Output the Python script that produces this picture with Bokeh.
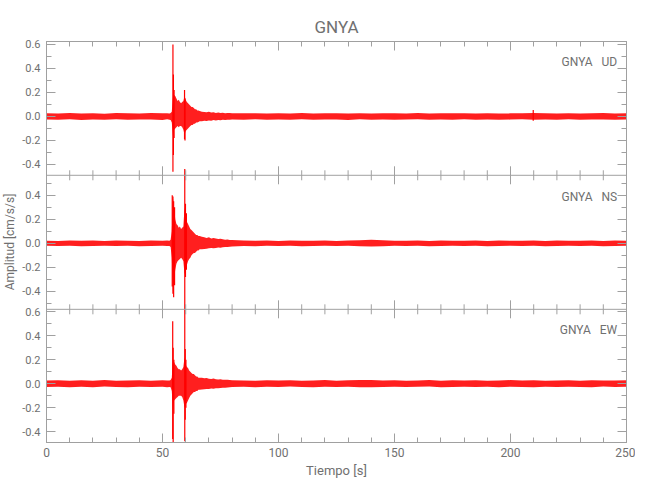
from bokeh.plotting import figure
from bokeh.models import (ColumnDataSource, Range1d, LinearAxis, SingleIntervalTicker,
                          FixedTicker, Label, Span, CustomJSTickFormatter)
from bokeh.transform import dodge
from bokeh.embed import file_html
from bokeh.resources import INLINE

# ---------------- data ----------------
TITLE = "GNYA"
STATION = "GNYA"
COMPONENTS = ["UD", "NS", "EW"]

# time samples of the envelope [s]
T = [0, 5, 10, 15, 20, 25, 30, 35, 40, 45, 50, 52, 53,
     53.5, 54, 54.5, 55, 55.5, 56, 56.5, 57, 57.5, 58, 58.5, 59, 59.5, 60, 60.5, 61,
     61.5, 62, 62.5, 63, 63.5, 64, 64.5, 65, 65.5, 66,
     67, 68, 69, 70, 71, 72, 73, 74, 75, 76, 77, 78, 79, 80,
     85, 90, 95, 100, 105, 110, 115, 120, 125, 130, 135, 140, 145, 150, 155, 160, 165,
     170, 175, 180, 185, 190, 195, 200, 205, 210, 215, 220, 225, 230, 235, 240, 245, 250]

# UD envelope [cm/s/s]
UD_hi = [0.027, 0.024, 0.030, 0.025, 0.028, 0.023, 0.029, 0.026, 0.024, 0.030, 0.026, 0.028, 0.025,
         0.03, 0.04, 0.16, 0.18, 0.17, 0.15, 0.13, 0.14, 0.12, 0.11, 0.12, 0.13, 0.17, 0.14, 0.12, 0.11,
         0.10, 0.09, 0.08, 0.08, 0.07, 0.06, 0.06, 0.05, 0.05, 0.045,
         0.040, 0.038, 0.035, 0.040, 0.033, 0.035, 0.030, 0.034, 0.030, 0.032, 0.028, 0.030, 0.029, 0.027,
         0.026, 0.028, 0.024, 0.027, 0.025, 0.029, 0.024, 0.026, 0.028, 0.025, 0.027, 0.024, 0.028, 0.026,
         0.025, 0.029, 0.024, 0.027, 0.026, 0.028, 0.025, 0.027, 0.024, 0.026, 0.028, 0.029, 0.027, 0.025,
         0.028, 0.024, 0.026, 0.029, 0.025, 0.027]
UD_lo = [-0.026, -0.028, -0.024, -0.029, -0.025, -0.027, -0.024, -0.028, -0.026, -0.025, -0.029, -0.024, -0.027,
         -0.03, -0.05, -0.16, -0.11, -0.10, -0.09, -0.08, -0.09, -0.08, -0.08, -0.09, -0.11, -0.15, -0.12, -0.11, -0.10,
         -0.09, -0.08, -0.07, -0.07, -0.06, -0.06, -0.05, -0.05, -0.045, -0.04,
         -0.040, -0.035, -0.037, -0.033, -0.035, -0.030, -0.033, -0.030, -0.031, -0.028, -0.030, -0.027, -0.028, -0.026,
         -0.027, -0.024, -0.028, -0.025, -0.027, -0.024, -0.028, -0.026, -0.025, -0.029, -0.024, -0.027, -0.025, -0.028,
         -0.026, -0.024, -0.027, -0.025, -0.028, -0.024, -0.027, -0.025, -0.028, -0.026, -0.024, -0.028, -0.026, -0.028,
         -0.024, -0.027, -0.025, -0.026, -0.028, -0.025]

# NS envelope
NS_hi = [0.022, 0.020, 0.024, 0.021, 0.023, 0.019, 0.024, 0.022, 0.020, 0.023, 0.021, 0.024, 0.022,
         0.03, 0.10, 0.38, 0.30, 0.20, 0.16, 0.15, 0.13, 0.14, 0.12, 0.13, 0.14, 0.30, 0.22, 0.18, 0.16,
         0.14, 0.12, 0.11, 0.10, 0.09, 0.08, 0.07, 0.07, 0.06, 0.06,
         0.055, 0.050, 0.045, 0.050, 0.040, 0.045, 0.040, 0.035, 0.038, 0.034, 0.030, 0.032, 0.028, 0.027,
         0.024, 0.021, 0.023, 0.020, 0.024, 0.022, 0.021, 0.023, 0.020, 0.024, 0.026, 0.030, 0.025, 0.022,
         0.021, 0.024, 0.020, 0.023, 0.022, 0.021, 0.024, 0.020, 0.023, 0.022, 0.021, 0.024, 0.020, 0.023,
         0.022, 0.021, 0.024, 0.020, 0.023, 0.022]
NS_lo = [-0.021, -0.023, -0.020, -0.024, -0.022, -0.021, -0.023, -0.020, -0.024, -0.022, -0.021, -0.023, -0.022,
         -0.03, -0.12, -0.40, -0.30, -0.22, -0.17, -0.15, -0.14, -0.13, -0.12, -0.13, -0.15, -0.26, -0.22, -0.18, -0.15,
         -0.13, -0.12, -0.10, -0.09, -0.08, -0.08, -0.07, -0.06, -0.06, -0.05,
         -0.050, -0.048, -0.045, -0.042, -0.040, -0.042, -0.038, -0.035, -0.036, -0.032, -0.030, -0.031, -0.028, -0.026,
         -0.022, -0.024, -0.020, -0.023, -0.021, -0.024, -0.022, -0.020, -0.023, -0.021, -0.024, -0.027, -0.024, -0.021,
         -0.023, -0.020, -0.024, -0.022, -0.021, -0.023, -0.020, -0.024, -0.022, -0.021, -0.023, -0.020, -0.024, -0.022,
         -0.021, -0.023, -0.020, -0.024, -0.022, -0.021]

# EW envelope
EW_hi = [0.026, 0.029, 0.024, 0.028, 0.025, 0.030, 0.024, 0.027, 0.029, 0.025, 0.028, 0.026, 0.027,
         0.03, 0.05, 0.20, 0.18, 0.16, 0.15, 0.13, 0.12, 0.12, 0.11, 0.12, 0.14, 0.22, 0.16, 0.14, 0.13,
         0.11, 0.10, 0.09, 0.08, 0.08, 0.07, 0.06, 0.06, 0.05, 0.05,
         0.050, 0.045, 0.048, 0.042, 0.040, 0.043, 0.038, 0.036, 0.038, 0.034, 0.032, 0.033, 0.030, 0.029,
         0.027, 0.025, 0.029, 0.026, 0.028, 0.024, 0.027, 0.030, 0.025, 0.028, 0.031, 0.030, 0.026, 0.029,
         0.025, 0.027, 0.030, 0.024, 0.028, 0.026, 0.029, 0.025, 0.027, 0.030, 0.026, 0.028, 0.024, 0.027,
         0.029, 0.025, 0.028, 0.026, 0.027, 0.029]
EW_lo = [-0.028, -0.025, -0.029, -0.026, -0.030, -0.024, -0.027, -0.029, -0.025, -0.028, -0.026, -0.029, -0.027,
         -0.03, -0.06, -0.22, -0.14, -0.13, -0.12, -0.11, -0.10, -0.10, -0.10, -0.11, -0.14, -0.20, -0.17, -0.16, -0.14,
         -0.12, -0.10, -0.09, -0.08, -0.07, -0.07, -0.06, -0.06, -0.05, -0.05,
         -0.048, -0.046, -0.044, -0.045, -0.040, -0.041, -0.037, -0.038, -0.035, -0.033, -0.034, -0.031, -0.030, -0.028,
         -0.026, -0.029, -0.025, -0.028, -0.024, -0.027, -0.030, -0.025, -0.028, -0.026, -0.029, -0.029, -0.027, -0.025,
         -0.028, -0.026, -0.024, -0.029, -0.027, -0.025, -0.028, -0.026, -0.030, -0.025, -0.027, -0.029, -0.026, -0.028,
         -0.025, -0.027, -0.029, -0.024, -0.028, -0.026]

# individual peaks (time, max, min)
UD_spk_t = [54.5, 54.7, 55.0, 59.5, 59.7, 209.8]
UD_spk_hi = [0.60, 0.35, 0.22, 0.22, 0.15, 0.055]
UD_spk_lo = [-0.46, -0.32, -0.18, -0.19, -0.20, -0.035]

NS_spk_t = [54.2, 54.5, 54.8, 55.2, 59.6, 59.9, 60.3]
NS_spk_hi = [0.40, 0.39, 0.35, 0.30, 0.62, 0.33, 0.25]
NS_spk_lo = [-0.36, -0.42, -0.45, -0.35, -0.53, -0.28, -0.22]

EW_spk_t = [54.4, 54.6, 54.9, 59.6, 59.8, 60.1]
EW_spk_hi = [0.52, 0.30, 0.20, 0.64, 0.29, 0.20]
EW_spk_lo = [-0.46, -0.50, -0.25, -0.48, -0.30, -0.20]

# y-axis extents of each panel (top to bottom)
Y_RANGES = [(-0.49, 0.625), (-0.55, 0.567), (-0.49, 0.62)]
LABEL_Y = [0.456, 0.386, 0.444]

# tick values
X_MAJOR = [0, 50, 100, 150, 200, 250]
X_MINOR = [10, 20, 30, 40, 60, 70, 80, 90, 110, 120, 130, 140, 160, 170, 180, 190,
           210, 220, 230, 240]
Y_MAJOR = [-0.4, -0.2, 0.0, 0.2, 0.4, 0.6]
Y_MINOR = [-0.5, -0.4, -0.3, -0.2, -0.1, 0.0, 0.1, 0.2, 0.3, 0.4, 0.5, 0.6]

# ---------------- styling ----------------
FONT = "Roboto"
AX = "#a0a0a0"
TXT = "#707070"
TRACE = "#ff0000"
FRAME_W, FRAME_H = 580, 401

# stacking of the three panels inside one frame (bottom panel first)
offsets = [0.0, 0.0, 0.0]
bounds = []
base = 0.0
for k in (2, 1, 0):
    lo_, hi_ = Y_RANGES[k]
    offsets[k] = base - lo_
    base = offsets[k] + hi_
    bounds.append(base)
TOP = base
inner_bounds = bounds[:-1]
px = FRAME_H / TOP  # pixels per unit

p = figure(frame_width=FRAME_W, frame_height=FRAME_H,
           x_range=Range1d(0, 250), y_range=Range1d(0, TOP),
           output_backend="svg", toolbar_location=None,
           min_border_left=42, min_border_right=9,
           min_border_top=41, min_border_bottom=40,
           background_fill_color="white", border_fill_color="white")
p.outline_line_color = AX
p.xgrid.visible = False
p.ygrid.visible = False

traces = [(UD_hi, UD_lo, UD_spk_t, UD_spk_hi, UD_spk_lo),
          (NS_hi, NS_lo, NS_spk_t, NS_spk_hi, NS_spk_lo),
          (EW_hi, EW_lo, EW_spk_t, EW_spk_hi, EW_spk_lo)]

SEP = "\u00a0\u00a0\u00a0"
for k, (hi, lo, st, sh, sl) in enumerate(traces):
    off = offsets[k]
    src = ColumnDataSource(dict(t=T, hi=hi, lo=lo))
    p.varea(x="t", y1=dodge("lo", off), y2=dodge("hi", off), source=src,
            fill_color=TRACE, fill_alpha=0.88)
    ssrc = ColumnDataSource(dict(t=st, hi=sh, lo=sl))
    p.segment(x0="t", y0=dodge("lo", off), x1="t", y1=dodge("hi", off), source=ssrc,
              line_color=TRACE, line_width=1.2)
    p.add_layout(Label(x=246, y=LABEL_Y[k] + off, text=STATION + SEP + COMPONENTS[k],
                       text_align="right", text_baseline="middle",
                       text_font=FONT, text_font_size="12px", text_color=TXT))

# panel boundaries with inward ticks on both sides
for b in inner_bounds:
    p.add_layout(Span(location=b, dimension="width", line_color=AX, line_width=1))
    p.segment(x0=X_MAJOR, y0=[b - 9 / px] * len(X_MAJOR), x1=X_MAJOR,
              y1=[b + 9 / px] * len(X_MAJOR), line_color=AX, line_width=1)
    p.segment(x0=X_MINOR, y0=[b - 5 / px] * len(X_MINOR), x1=X_MINOR,
              y1=[b + 5 / px] * len(X_MINOR), line_color=AX, line_width=1)

# y ticks for all panels
ymaj, yminr, overrides = [], [], {}
for k in range(3):
    lo_, hi_ = Y_RANGES[k]
    for v in Y_MAJOR:
        if lo_ <= v <= hi_:
            g = round(offsets[k] + v, 6)
            ymaj.append(g)
            overrides[g] = f"{v:.1f}"
    for v in Y_MINOR:
        if lo_ <= v <= hi_:
            yminr.append(round(offsets[k] + v, 6))


def style_axis(ax):
    ax.axis_line_color = AX
    ax.major_tick_line_color = AX
    ax.minor_tick_line_color = AX
    ax.major_tick_in = 9
    ax.major_tick_out = 0
    ax.minor_tick_in = 5
    ax.minor_tick_out = 0
    ax.major_label_text_font = FONT
    ax.major_label_text_color = TXT
    ax.major_label_text_font_size = "12px"
    ax.axis_label_text_font = FONT
    ax.axis_label_text_color = TXT
    ax.axis_label_text_font_style = "normal"
    ax.axis_label_text_font_size = "13px"


blank = CustomJSTickFormatter(code="return ''")

xb = p.xaxis[0]
xb.ticker = SingleIntervalTicker(interval=50, num_minor_ticks=5)
style_axis(xb)
xb.major_label_standoff = 5
xb.axis_label = "Tiempo [s]"
xb.axis_label_standoff = 3

xa = LinearAxis(ticker=SingleIntervalTicker(interval=50, num_minor_ticks=5), formatter=blank)
style_axis(xa)
xa.major_label_standoff = 6
p.add_layout(xa, "above")

yl = p.yaxis[0]
yl.ticker = FixedTicker(ticks=ymaj, minor_ticks=yminr)
yl.major_label_overrides = overrides
style_axis(yl)
yl.major_label_text_font_size = "11px"
yl.major_label_standoff = 6
yl.axis_label = "Amplitud [cm/s/s]"
yl.axis_label_text_font_size = "12px"
yl.axis_label_standoff = 2

yr = LinearAxis(ticker=FixedTicker(ticks=ymaj, minor_ticks=yminr), formatter=blank)
style_axis(yr)
yr.major_label_standoff = 0
p.add_layout(yr, "right")

p.title.text = TITLE
p.title.align = "center"
p.title.text_font = FONT
p.title.text_font_size = "17px"
p.title.text_font_style = "normal"
p.title.text_color = TXT

open("out.html", "w").write(file_html(p, INLINE))
